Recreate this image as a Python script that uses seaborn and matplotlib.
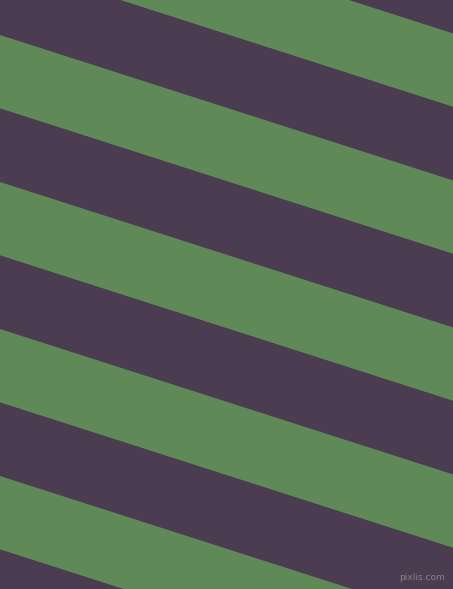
import numpy as np
import seaborn as sns
import matplotlib
matplotlib.use("Agg")
import matplotlib.pyplot as plt

# stripe edges where they meet the left side (y in pixels, measured from the top)
stripe_tops = [-185.5, -112.0, -38.5, 35.0, 108.5, 182.0, 255.5, 329.0, 402.5, 476.0, 549.5]
stripe_height = 73.5
slope = 0.321  # the edges drop this many pixels for each pixel to the right
stripe_colors = ["#4b3c51", "#5f8a58"]
width, height = 453, 589
watermark = "pixlis.com"

sns.set_style("white")

fig = plt.figure(figsize=(width / 100, height / 100), dpi=100)
fig.patch.set_facecolor(stripe_colors[0])
ax = fig.add_axes([0, 0, 1, 1])
ax.set_facecolor(stripe_colors[0])

x = np.array([0, width])
for i, top in enumerate(stripe_tops):
    ax.fill_between(x, top + slope * x, top + stripe_height + slope * x,
                    color=stripe_colors[i % 2], linewidth=0)

ax.set_xlim(0, width)
ax.set_ylim(height, 0)
ax.axis("off")

ax.text(445, 578, watermark, fontsize=6.5, color="#858585",
        ha="right", va="center", family="DejaVu Sans")

fig.savefig("out.png", dpi=100, facecolor=fig.get_facecolor())
